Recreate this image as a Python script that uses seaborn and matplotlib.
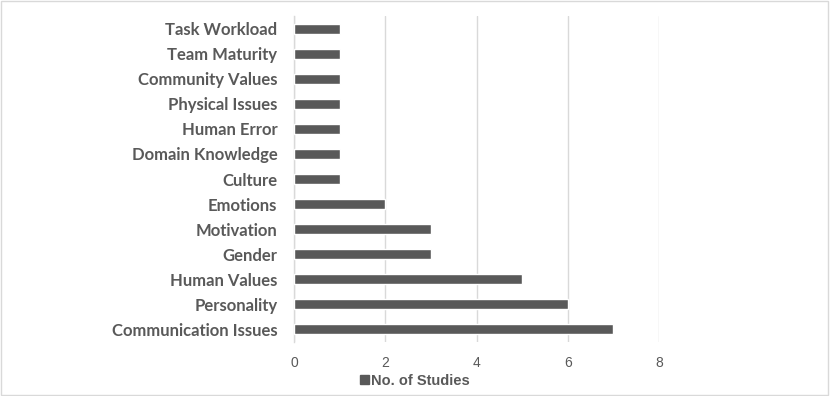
import matplotlib
matplotlib.use('Agg')
import matplotlib.pyplot as plt
import matplotlib.patches as mpatches
import pandas as pd
import seaborn as sns

# data, listed top to bottom as drawn
factors = ['Task Workload', 'Team Maturity', 'Community Values', 'Physical Issues',
           'Human Error', 'Domain Knowledge', 'Culture', 'Emotions', 'Motivation',
           'Gender', 'Human Values', 'Personality', 'Communication Issues']
n_studies = [1, 1, 1, 1, 1, 1, 1, 2, 3, 3, 5, 6, 7]
x_ticks = [0, 2, 4, 6, 8]
series_name = 'No. of Studies'

BAR = '#595959'
GRID = '#d9d9d9'

df = pd.DataFrame({'factor': factors, 'count': n_studies})

sns.set_style('white')
plt.rcParams['font.family'] = ['Lato', 'DejaVu Sans']

fig = plt.figure(figsize=(8.3, 3.96), dpi=100)
ax = fig.add_axes([294 / 830, 1 - 342 / 396, (659 - 294) / 830, (342 - 16) / 396])

sns.barplot(data=df, x='count', y='factor', color=BAR, width=0.4,
            saturation=1, ax=ax, zorder=3)

ax.set_xlim(0, 8)
ax.set_xticks(x_ticks)
ax.set_xticklabels([str(t) for t in x_ticks], color=BAR, fontsize=10,
                   family=['Liberation Sans', 'DejaVu Sans'])
ax.tick_params(axis='x', length=0, pad=10)
ax.tick_params(axis='y', length=0, pad=12)
for lab in ax.get_yticklabels():
    lab.set_fontweight('bold')
    lab.set_fontsize(12)
    lab.set_color(BAR)
ax.set_xlabel('')
ax.set_ylabel('')
ax.xaxis.grid(True, color=GRID, linewidth=1, zorder=0)
ax.set_axisbelow(True)
for side in ['top', 'right', 'bottom']:
    ax.spines[side].set_visible(False)
ax.spines['left'].set_color(GRID)
ax.spines['left'].set_linewidth(1)

handle = mpatches.Patch(color=BAR, label=series_name)
leg = fig.legend(handles=[handle], loc='center', bbox_to_anchor=(415 / 830, 1 - 381 / 396),
                 frameon=False, handlelength=0.6, handleheight=0.6, handletextpad=0.2,
                 prop={'weight': 'bold', 'size': 10.5, 'family': ['Liberation Sans', 'DejaVu Sans']})
for t in leg.get_texts():
    t.set_color(BAR)

# light frame round the whole chart
fig.patches.append(mpatches.Rectangle((0.001, 0.002), 0.997, 0.995, transform=fig.transFigure,
                                      fill=False, edgecolor=GRID, linewidth=1))

plt.savefig('out.png', dpi=100)
